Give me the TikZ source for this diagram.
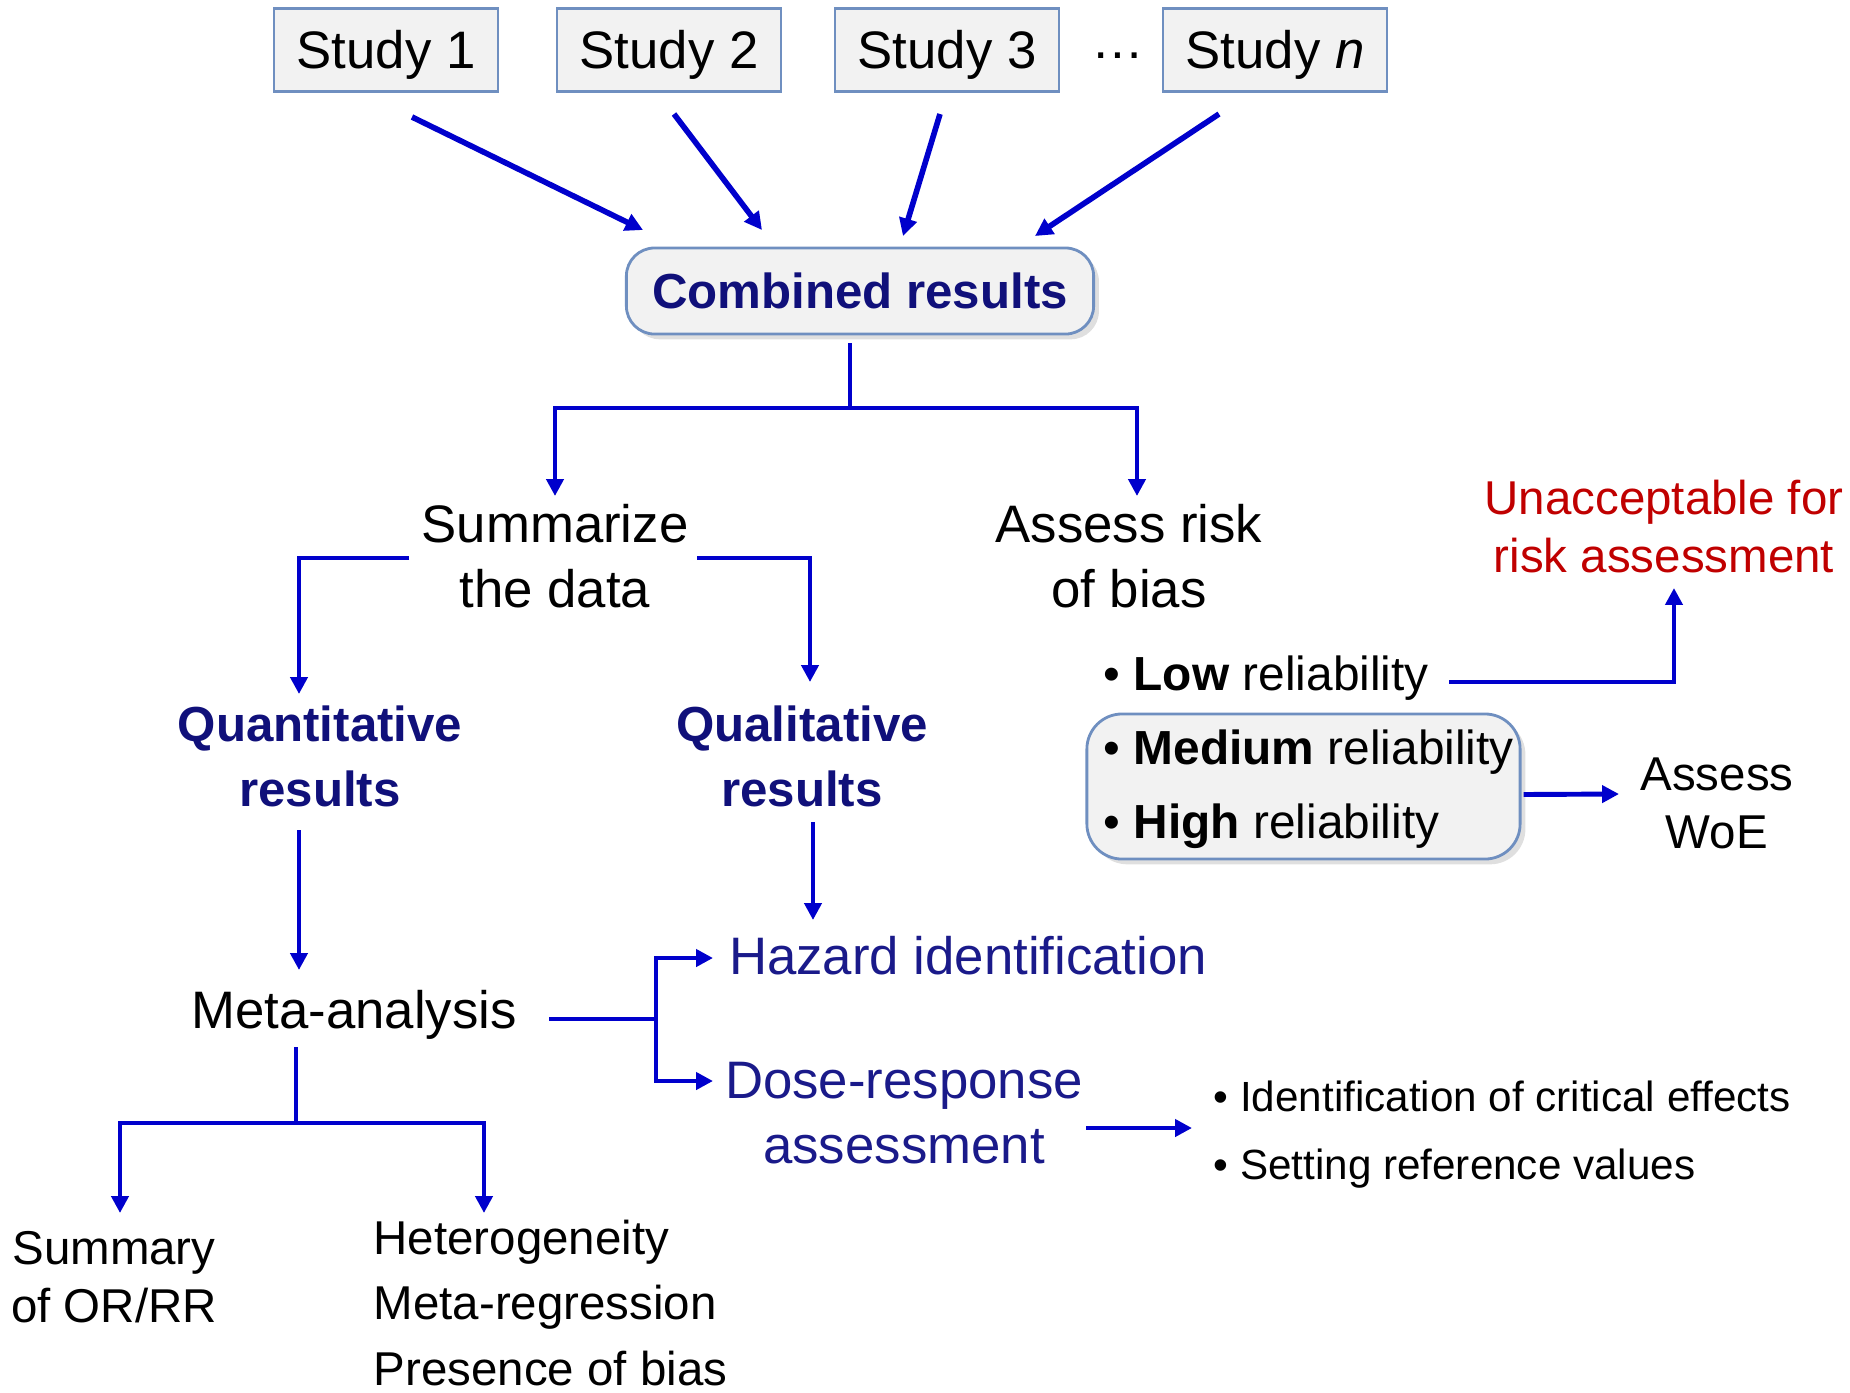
\documentclass[tikz,border=0pt]{standalone}
\usepackage{fontspec}
\setmainfont{Liberation Sans}
\usetikzlibrary{arrows.meta,shadows,calc}
\definecolor{arrblue}{HTML}{0000CC}
\definecolor{navy}{HTML}{10107A}
\definecolor{navyl}{HTML}{1A1A8A}
\definecolor{redt}{HTML}{C00000}
\definecolor{boxline}{HTML}{6F8FC0}
\definecolor{boxfill}{HTML}{F2F2F2}
\newcommand\myL{\fontsize{15pt}{18.5pt}\selectfont}
\newcommand\myB{\fontsize{14pt}{18.5pt}\selectfont\bfseries}
\newcommand\myM{\fontsize{13.5pt}{16.5pt}\selectfont}
\newcommand\myMH{\fontsize{13.5pt}{18.5pt}\selectfont}
\newcommand\myR{\fontsize{13.6pt}{17pt}\selectfont}
\newcommand\myS{\fontsize{12pt}{19.3pt}\selectfont}
\begin{document}
\begin{tikzpicture}[x=0.01cm,y=-0.01cm,
  ln/.style={draw=arrblue,line width=1.4pt},
  arr/.style={ln,-{Triangle[length=4.8pt,width=4.8pt]}},
  sarr/.style={draw=arrblue,line width=1.6pt,-{Triangle[length=5pt,width=5pt]}},
  txt/.style={inner sep=0pt,font=\myL},
  studybox/.style={draw=boxline,fill=boxfill,line width=0.8pt,minimum width=2.24cm,minimum height=0.83cm,inner sep=0pt,font=\myL,text height=10.7pt,text depth=0pt},
  combbox/.style={draw=boxline,fill=boxfill,line width=0.8pt,rounded corners=8pt,minimum width=4.67cm,minimum height=0.86cm,inner sep=0pt,font=\myB,text=navy,text height=10pt,text depth=0pt,drop shadow={shadow xshift=1.5pt,shadow yshift=-1.5pt,opacity=0.25}},
  relibox/.style={draw=boxline,fill=boxfill,line width=0.8pt,rounded corners=10pt,minimum width=4.33cm,minimum height=1.45cm,inner sep=0pt,drop shadow={shadow xshift=1.5pt,shadow yshift=-1.5pt,opacity=0.25}}
]
\useasboundingbox (0,0) rectangle (1850,1393);

% study boxes
\node[studybox] (s1) at (386,50) {Study 1};
\node[studybox] (s2) at (669,50) {Study 2};
\node[studybox] (s3) at (947,50) {Study 3};
\node[studybox] (sn) at (1275,50) {Study \textit{n}};
\node[txt] (dots) at (1118,56) {…};

\node[combbox] (comb) at (860,291) {Combined results};

\node[txt,align=center] (summ) at (555,556) {Summarize\\the data};
\node[txt,align=center] (risk) at (1129,556) {Assess risk\\of bias};
\node[txt,align=center,font=\myB,text=navy] (quant) at (320,756) {Quantitative\\results};
\node[txt,align=center,font=\myB,text=navy] (qual) at (802,756) {Qualitative\\results};
\node[txt] (meta) at (354,1015) {Meta-analysis};
\node[txt,text=navyl] (haz) at (968,956) {Hazard identification};
\node[txt,text=navyl,align=center] (dose) at (904,1113) {Dose-response\\assessment};
\node[txt,font=\myS,align=left,anchor=west] (bul) at (1213,1135) {• Identification of critical effects\\• Setting reference values};
\node[txt,font=\myM,align=center] (summary) at (114,1277) {Summary\\of OR/RR};
\node[txt,font=\myMH,align=left,anchor=west] (het) at (373,1303) {Heterogeneity\\Meta-regression\\Presence of bias};
\node[txt,font=\myM,align=center,text=redt] (unacc) at (1664,527) {Unacceptable for\\risk assessment};
\node[txt,font=\myR,anchor=west] (low) at (1103,678) {• \textbf{Low} reliability};
\node[relibox] (reli) at (1303.5,786.5) {};
\node[txt,font=\myR,anchor=west] (med) at (1103,752) {• \textbf{Medium} reliability};
\node[txt,font=\myR,anchor=west] (high) at (1103,826) {• \textbf{High} reliability};
\node[txt,font=\myM,align=center] (woe) at (1717,803) {Assess\\WoE};

% study arrows
\draw[sarr] ([shift={(26,67)}]s1.center) -- ([shift={(-217,-61)}]comb.center);
\draw[sarr] ([shift={(5,64)}]s2.center) -- ([shift={(-98,-61)}]comb.center);
\draw[sarr] ([shift={(-7,64)}]s3.center) -- ([shift={(43,-55)}]comb.center);
\draw[sarr] ([shift={(-56,64)}]sn.center) -- ([shift={(175,-55)}]comb.center);

% combined tree
\draw[ln] ([shift={(-10,52)}]comb.center) -- ++(0,65) coordinate (j1);
\draw[arr] (j1) -| ([shift={(0,-60)}]summ.center);
\draw[arr] (j1) -| ([shift={(8,-60)}]risk.center);

% summarize branches
\draw[arr] ([shift={(-146,2)}]summ.center) -| ([shift={(-21,-62)}]quant.center);
\draw[arr] ([shift={(142,2)}]summ.center) -| ([shift={(8,-74)}]qual.center);

% to meta and hazard
\draw[arr] ([shift={(-21,74)}]quant.center) -- ([shift={(-55,-45)}]meta.center);
\draw[arr] ([shift={(11,66)}]qual.center) -- ([shift={(-155,-36)}]haz.center);

% meta to hazard / dose
\draw[ln] ([shift={(195,4)}]meta.center) -- ++(107,0) coordinate (j2);
\draw[arr] (j2) |- ([shift={(-255,2)}]haz.center);
\draw[arr] (j2) |- ([shift={(-191,-32)}]dose.center);

% dose to bullets
\draw[arr] ([shift={(182,15)}]dose.center) -- ([shift={(-21,-7)}]bul.west);

% meta down
\draw[ln] ([shift={(-58,32)}]meta.center) -- ++(0,76) coordinate (j3);
\draw[arr] (j3) -| ([shift={(6,-64)}]summary.center);
\draw[arr] (j3) -| ([shift={(111,-90)}]het.west);

% reliability
\draw[arr] ([shift={(346,4)}]low.west) -| ([shift={(10,61)}]unacc.center);
\draw[arr] ([shift={(2,8)}]reli.east) -- ([shift={(-98,-9)}]woe.center);
\end{tikzpicture}
\end{document}
